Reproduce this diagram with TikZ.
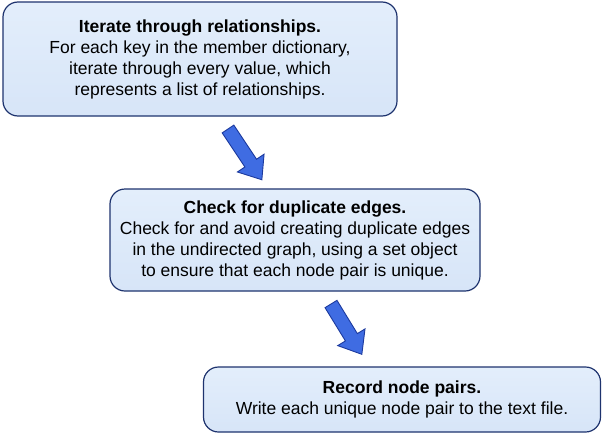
\documentclass[tikz,border=0pt]{standalone}
\usepackage{fontspec}
\setmainfont{Liberation Sans}
\definecolor{boxedge}{HTML}{1E336E}
\definecolor{boxtop}{HTML}{E3EEFB}
\definecolor{boxbot}{HTML}{D7E5F8}
\definecolor{arrfill}{HTML}{3F6CE2}
\definecolor{arredge}{HTML}{1C3A9E}
\begin{document}
\begin{tikzpicture}[x=1pt,y=-1pt,
  stepbox/.style={draw=boxedge, line width=1.2pt, rounded corners=15pt,
    top color=boxtop, bottom color=boxbot, align=center,
    font=\fontsize{17.5}{21}\selectfont, inner sep=0pt},
  fatarrow/.style={draw=arredge, line width=0.9pt, fill=arrfill, line join=miter}]
\useasboundingbox (0,0) rectangle (602,434);
\node[stepbox, minimum width=394pt, minimum height=114pt] (b1) at (200,59)
  {\textbf{Iterate through relationships.}\\For each key in the member dictionary,\\iterate through every value, which\\represents a list of relationships.};
\node[stepbox, minimum width=370pt, minimum height=102pt] (b2) at (295,240)
  {\textbf{Check for duplicate edges.}\\Check for and avoid creating duplicate edges\\in the undirected graph, using a set object\\to ensure that each node pair is unique.};
\node[stepbox, minimum width=397pt, minimum height=65pt] (b3) at (402,399.5)
  {\textbf{Record node pairs.}\\Write each unique node pair to the text file.};
\coordinate (a1s) at (228,129);
\coordinate (a2s) at (331,304);
\begin{scope}[shift={(a1s)}, rotate=-56.3]
  \draw[fatarrow] (0,-7) -- (41,-7) -- (41,-16) -- (61,0) -- (41,16) -- (41,7) -- (0,7) -- cycle;
\end{scope}
\begin{scope}[shift={(a2s)}, rotate=-58.5]
  \draw[fatarrow] (0,-7) -- (39,-7) -- (39,-16) -- (59,0) -- (39,16) -- (39,7) -- (0,7) -- cycle;
\end{scope}
\end{tikzpicture}
\end{document}
